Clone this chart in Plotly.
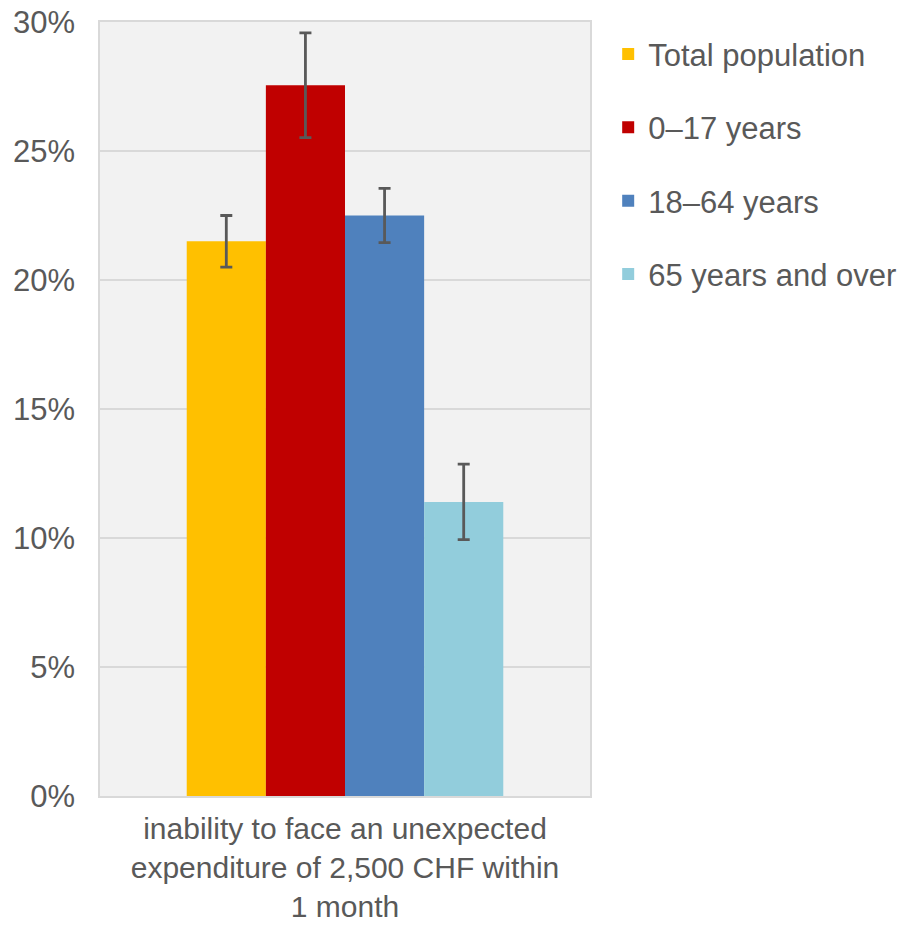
import plotly.graph_objects as go

category = ["inability to face an unexpected<br>expenditure of 2,500 CHF within<br>1 month"]
series_names = ["Total population", "0–17 years", "18–64 years", "65 years and over"]
values = [21.5, 27.55, 22.5, 11.4]
err_plus = [1.0, 2.03, 1.05, 1.46]
err_minus = [1.0, 2.03, 1.05, 1.46]
colors = ["#FFC000", "#C00000", "#4F81BD", "#92CDDC"]
y_ticks = [0, 5, 10, 15, 20, 25, 30]
y_tick_labels = ["0%", "5%", "10%", "15%", "20%", "25%", "30%"]

FONT = "Liberation Sans, Arial, sans-serif"
TXT = "#595959"

fig = go.Figure()
for i, name in enumerate(series_names):
    fig.add_trace(go.Bar(
        x=category, y=[values[i]], name=name,
        marker=dict(color=colors[i], line=dict(width=0)),
        legendgroup=name,
        error_y=dict(type="data", array=[err_plus[i]], arrayminus=[err_minus[i]],
                     symmetric=False, color="#595959", thickness=2.8, width=6),
    ))

fig.update_layout(
    width=913, height=925,
    margin=dict(l=100, r=322, t=22, b=129),
    paper_bgcolor="white", plot_bgcolor="#F2F2F2",
    barmode="group", bargap=0.354, bargroupgap=0,
    font=dict(family=FONT, size=30, color=TXT),
    legend=dict(x=1.035, xanchor="left", y=0.993, yanchor="top",
                font=dict(family=FONT, size=31, color=TXT),
                tracegroupgap=30, itemwidth=30, bgcolor="rgba(0,0,0,0)"),
    showlegend=True,
)
fig.update_xaxes(showgrid=False, showline=True, mirror=True, linecolor="#D9D9D9", linewidth=1.5,
                 tickfont=dict(family=FONT, size=30, color=TXT), ticks="", ticklabelstandoff=5,
                 automargin=False)
fig.update_yaxes(range=[0, 30], tickvals=y_ticks, ticktext=y_tick_labels,
                 showgrid=True, gridcolor="#D9D9D9", gridwidth=1.5,
                 showline=True, mirror=True, linecolor="#D9D9D9", linewidth=1.5,
                 zeroline=False, ticks="", ticklabelstandoff=17, automargin=False,
                 tickfont=dict(family=FONT, size=31, color=TXT))

fig.write_html("out.html", config={"displayModeBar": False},
               post_script="document.body.style.margin='0';")
